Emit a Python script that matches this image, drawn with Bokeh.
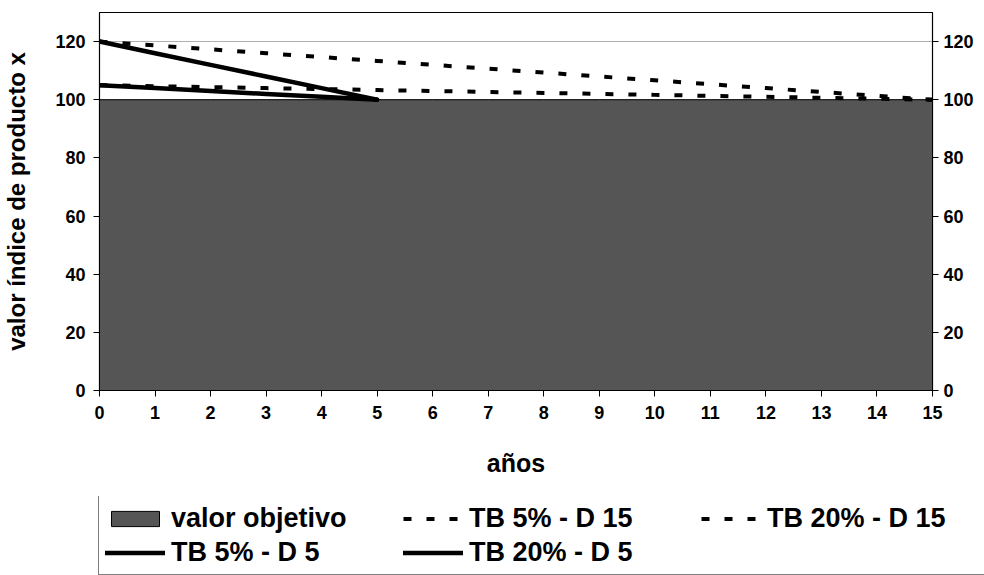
from bokeh.plotting import figure
from bokeh.layouts import column
from bokeh.models import Range1d, LinearAxis, Legend, LegendItem, FixedTicker
from bokeh.embed import file_html
from bokeh.resources import INLINE

# ---- data ----
anos = [0, 1, 2, 3, 4, 5, 6, 7, 8, 9, 10, 11, 12, 13, 14, 15]
valor_objetivo = [100, 100, 100, 100, 100, 100, 100, 100, 100, 100, 100, 100, 100, 100, 100, 100]
tb5_d15 = [105.0, 104.67, 104.33, 104.0, 103.67, 103.33, 103.0, 102.67,
           102.33, 102.0, 101.67, 101.33, 101.0, 100.67, 100.33, 100.0]
tb20_d15 = [120.0, 118.67, 117.33, 116.0, 114.67, 113.33, 112.0, 110.67,
            109.33, 108.0, 106.67, 105.33, 104.0, 102.67, 101.33, 100.0]
anos_d5 = [0, 1, 2, 3, 4, 5]
tb5_d5 = [105, 104, 103, 102, 101, 100]
tb20_d5 = [120, 116, 112, 108, 104, 100]
y_ticks = [0, 20, 40, 60, 80, 100, 120]
labels = ["valor objetivo", "TB 5% - D 15", "TB 20% - D 15", "TB 5% - D 5", "TB 20% - D 5"]

FONT = "Liberation Sans"
DASH = "8 15"


def draw_series(fig):
    area_x = anos + anos[::-1]
    area_y = valor_objetivo + [0 for _ in valor_objetivo]
    r_area = fig.patch(area_x, area_y, fill_color="#555555", line_color="black", line_width=1)
    r1 = fig.line(anos, tb5_d15, line_color="black", line_width=4, line_dash=DASH)
    r2 = fig.line(anos, tb20_d15, line_color="black", line_width=4, line_dash=DASH)
    r3 = fig.line(anos_d5, tb5_d5, line_color="black", line_width=4.5, line_cap="round")
    r4 = fig.line(anos_d5, tb20_d5, line_color="black", line_width=4.5, line_cap="round")
    return [r_area, r1, r2, r3, r4]


# ---- main chart ----
p = figure(width=984, height=496, x_range=Range1d(0, 15), y_range=Range1d(0, 130),
           output_backend="svg", toolbar_location=None,
           min_border_top=12, min_border_left=98, min_border_right=52, min_border_bottom=106)
p.frame_align = False
p.background_fill_color = "white"
p.border_fill_color = "white"
p.outline_line_color = "black"
p.outline_line_width = 1.2
draw_series(p)


def style_axis(ax):
    ax.axis_line_color = "black"
    ax.major_tick_line_color = "black"
    ax.major_tick_out = 6
    ax.major_tick_in = 0
    ax.minor_tick_line_color = None
    ax.major_label_text_font = FONT
    ax.major_label_text_font_style = "bold"
    ax.major_label_text_font_size = "18px"
    ax.major_label_text_color = "black"
    ax.axis_label_text_font = FONT
    ax.axis_label_text_font_style = "bold"
    ax.axis_label_text_font_size = "25px"
    ax.axis_label_text_color = "black"


p.xaxis.ticker = FixedTicker(ticks=anos)
p.yaxis.ticker = FixedTicker(ticks=y_ticks)
p.xaxis.axis_label = "años"
p.yaxis.axis_label = "valor índice de producto x"
style_axis(p.xaxis[0])
style_axis(p.yaxis[0])
p.yaxis.axis_label_text_font_size = "24px"
p.xaxis.major_label_standoff = 9
p.xaxis.axis_label_standoff = 27
p.yaxis.major_label_standoff = 8
p.yaxis.axis_label_standoff = 22

right = LinearAxis(ticker=FixedTicker(ticks=y_ticks))
style_axis(right)
right.major_label_standoff = 5
p.add_layout(right, "right")

p.xgrid.visible = False
p.ygrid.grid_line_color = "#b0b0b0"
p.ygrid.ticker = FixedTicker(ticks=y_ticks)

# ---- legend strip ----
q = figure(width=984, height=79, x_range=Range1d(0, 15), y_range=Range1d(1000, 1001),
           output_backend="svg", toolbar_location=None,
           x_axis_location=None, y_axis_location=None,
           min_border=0, min_border_left=0, min_border_right=0,
           min_border_top=0, min_border_bottom=0)
q.frame_align = False
q.outline_line_color = None
q.grid.visible = False
q.background_fill_color = "white"
q.border_fill_color = "white"
leg_renderers = draw_series(q)

legend = Legend(items=[LegendItem(label=lab, renderers=[r]) for lab, r in zip(labels, leg_renderers)],
                ncols=3, orientation="horizontal", location=(98, 0))
legend.label_text_font = FONT
legend.label_text_font_style = "bold"
legend.label_text_font_size = "27px"
legend.label_text_color = "black"
legend.glyph_width = 60
legend.glyph_height = 19
legend.label_width = 230
legend.label_height = 32
legend.label_standoff = 6
legend.spacing = 2
legend.padding = 6
legend.margin = 0
legend.border_line_color = "black"
legend.border_line_width = 1
legend.background_fill_color = "white"
q.add_layout(legend, "center")

layout = column(p, q, spacing=0)
open("out.html", "w").write(file_html(layout, INLINE))
